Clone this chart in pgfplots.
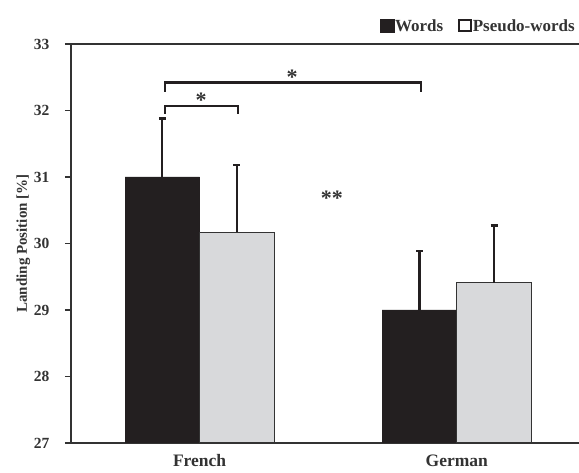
\documentclass[border=0pt]{standalone}
\usepackage{pgfplots}
\pgfplotsset{compat=1.18}
\usepackage{fontspec}
\setmainfont{Liberation Serif}
\definecolor{barblack}{HTML}{231F20}
\definecolor{bargray}{HTML}{D8D9DB}
\definecolor{axisgray}{HTML}{333333}
\begin{document}
\begin{tikzpicture}
\path[use as bounding box] (-71pt,-30pt) rectangle (508pt,443pt);
\begin{axis}[
  at={(0pt,0pt)}, anchor=south west,
  scale only axis, width=508pt, height=399pt,
  xmin=-0.5, xmax=1.475, ymin=27, ymax=33,
  axis x line*=bottom, axis y line*=left,
  axis line style={-, line width=1.6pt, axisgray},
  ytick={27,28,29,30,31,32,33},
  xtick={0,1}, xticklabels={French,German},
  major x tick style={draw=none},
  ytick style={line width=1.3pt, axisgray},
  tick align=outside, major tick length=6pt,
  /pgf/number format/assume math mode=true,
  yticklabel style={font=\fontsize{15.5}{17}\selectfont\bfseries, text=axisgray, xshift=-12pt},
  xticklabel style={font=\fontsize{17.5}{20}\selectfont\bfseries, text=axisgray, yshift=-2pt},
  ylabel={Landing Position [\%]},
  ylabel style={font=\fontsize{15}{17}\selectfont\bfseries, text=axisgray, yshift=-3pt},
  ybar, bar width=0.29,
  legend columns=2,
  legend style={at={(1,1)}, anchor=south east, draw=none, fill=none,
    font=\fontsize{17}{19}\selectfont\bfseries, text=axisgray, yshift=8pt,
    nodes={inner sep=1pt},
    /tikz/every even column/.append style={column sep=14pt}},
  clip=true,
]
\addplot[fill=barblack, draw=barblack, bar shift=-0.145,
  legend image code/.code={\fill[barblack] (0pt,-6pt) rectangle (14pt,7pt);},
  error bars/.cd, y dir=plus, y explicit,
  error bar style={line width=2.2pt, barblack},
  error mark options={rotate=90, mark size=3.5pt, line width=2.2pt, barblack}]
  coordinates {(0,31.00) +- (0,0.88) (1,29.00) +- (0,0.89)};
\addlegendentry{Words}
\addplot[fill=bargray, draw=axisgray, line width=1pt, bar shift=0.145,
  legend image code/.code={\draw[barblack, line width=2.2pt, fill=white] (1.1pt,-4.9pt) rectangle (12.4pt,5.9pt);},
  error bars/.cd, y dir=plus, y explicit,
  error bar style={line width=2.2pt, barblack},
  error mark options={rotate=90, mark size=3.5pt, line width=2.2pt, barblack}]
  coordinates {(0,30.17) +- (0,1.01) (1,29.41) +- (0,0.86)};
\addlegendentry{Pseudo-words}
\draw[line width=1.6pt, axisgray] (rel axis cs:0,1) -- (rel axis cs:1,1);
\draw[line width=2.2pt, barblack] (axis cs:-0.136,32.28) -- (axis cs:-0.136,32.42) -- (axis cs:0.862,32.42) -- (axis cs:0.862,32.28);
\draw[line width=2.2pt, barblack] (axis cs:-0.136,31.95) -- (axis cs:-0.136,32.07) -- (axis cs:0.148,32.07) -- (axis cs:0.148,31.95);
\node[anchor=base, inner sep=0pt, font=\fontsize{22}{24}\selectfont\bfseries, text=axisgray] at (axis cs:0.36,32.39) {*};
\node[anchor=base, inner sep=0pt, font=\fontsize{22}{24}\selectfont\bfseries, text=axisgray] at (axis cs:0.006,32.05) {*};
\node[anchor=base, inner sep=0pt, font=\fontsize{22}{24}\selectfont\bfseries, text=axisgray] at (axis cs:0.514,30.57) {**};
\end{axis}
\end{tikzpicture}
\end{document}
